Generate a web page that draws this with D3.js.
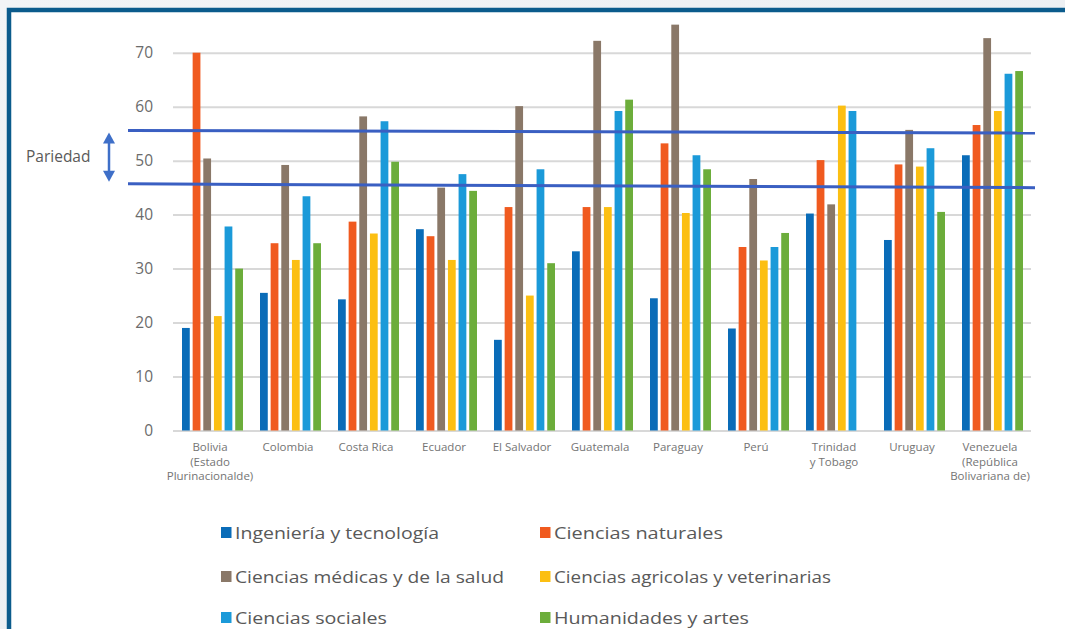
<!DOCTYPE html>
<html><head><meta charset="utf-8">
<script src="https://cdn.jsdelivr.net/npm/d3@7"></script>
<style>
html,body{margin:0;padding:0;background:#eef1f4;}
svg{display:block;}
</style></head>
<body>
<svg id="chart" width="1065" height="629"></svg>
<script>
const countries = [
  ["Bolivia","(Estado","Plurinacionalde)"],
  ["Colombia"],["Costa Rica"],["Ecuador"],["El Salvador"],["Guatemala"],
  ["Paraguay"],["Perú"],["Trinidad","y Tobago"],["Uruguay"],
  ["Venezuela","(República","Bolivariana de)"]
];
const seriesNames = [
  "Ingeniería y tecnología","Ciencias naturales","Ciencias médicas y de la salud",
  "Ciencias agricolas y veterinarias","Ciencias sociales","Humanidades y artes"
];
const seriesColors = ["#0a6cb8","#f05a1f","#8a7868","#fcbf12","#1b9ad9","#6cad3b"];
const ingenieria   = [19.0,25.5,24.3,37.3,16.8,33.2,24.5,18.9,40.2,35.3,51.0];
const naturales    = [70.0,34.7,38.7,36.0,41.4,41.4,53.2,34.0,50.1,49.3,56.6];
const medicas      = [50.4,49.2,58.2,45.0,60.1,72.2,75.2,46.6,41.9,55.7,72.7];
const agricolas    = [21.2,31.6,36.5,31.6,25.0,41.4,40.3,31.5,60.2,48.9,59.2];
const sociales     = [37.8,43.4,57.3,47.5,48.4,59.2,51.0,34.0,59.2,52.3,66.1];
const humanidades  = [30.0,34.7,49.8,44.4,31.0,61.3,48.4,36.6,null,40.5,66.6];
const yTicks = [0,10,20,30,40,50,60,70];
const parityLines = [[55.6,55.1],[45.7,45.0]];
const parityLabel = "Pariedad";

const values = [ingenieria,naturales,medicas,agricolas,sociales,humanidades];
const svg = d3.select("#chart");

// background frame
const defs = svg.append("defs");
const grad = defs.append("linearGradient").attr("id","bg").attr("x1","0").attr("y1","0").attr("x2","1").attr("y2","1");
grad.append("stop").attr("offset","0").attr("stop-color","#f2f4f6");
grad.append("stop").attr("offset","1").attr("stop-color","#e6ebf0");
svg.append("rect").attr("width",1065).attr("height",629).attr("fill","url(#bg)");
svg.append("rect").attr("x",9).attr("y",10).attr("width",1200).attr("height",800)
  .attr("fill","#ffffff").attr("stroke","#0b5b8c").attr("stroke-width",4.5);

const plotL = 173, plotR = 1031, plotT = 52.7, plotB = 430.5;
const y = d3.scaleLinear().domain([0,70]).range([plotB, plotT]);
const x0 = d3.scaleBand().domain(countries.map(c=>c.join(" "))).range([plotL,plotR]).padding(0);
const x1 = d3.scaleBand().domain(seriesNames).range([9,70]).paddingInner(0.27).paddingOuter(0);

// y axis + grid
const yAxis = svg.append("g").attr("transform",`translate(${plotL},0)`)
  .call(d3.axisLeft(y).tickValues(yTicks).tickSizeInner(-(plotR-plotL)).tickSizeOuter(0).tickPadding(20));
yAxis.select(".domain").remove();
yAxis.selectAll(".tick line").attr("stroke","#d8d8d8").attr("stroke-width",2);
yAxis.selectAll(".tick text").attr("fill","#6b6b6b").attr("font-family","Open Sans, sans-serif")
  .attr("font-size",15.5);

// bars
const groups = svg.append("g").selectAll("g").data(countries).join("g")
  .attr("transform",c=>`translate(${x0(c.join(" "))},0)`);
groups.selectAll("rect").data((c,i)=>values.map((s,k)=>({k, v:s[i]})).filter(d=>d.v!=null))
  .join("rect")
  .attr("x",d=>x1(seriesNames[d.k]))
  .attr("width",x1.bandwidth())
  .attr("y",d=>y(d.v))
  .attr("height",d=>y(0)-y(d.v))
  .attr("fill",d=>seriesColors[d.k]);

// x labels
const xl = svg.append("g").selectAll("text").data(countries).join("text")
  .attr("x",c=>x0(c.join(" "))+x0.bandwidth()/2-2)
  .attr("y",451)
  .attr("text-anchor","middle")
  .attr("fill","#747474")
  .attr("font-family","Open Sans, sans-serif")
  .attr("font-size",11.5);
xl.selectAll("tspan").data(c=>c).join("tspan")
  .attr("x",function(){return d3.select(this.parentNode).attr("x");})
  .attr("dy",(d,i)=>i===0?0:14.5)
  .text(d=>d);

// parity lines
const lx0 = 128, lx1 = 1035;
svg.append("g").selectAll("line").data(parityLines).join("line")
  .attr("x1",lx0).attr("x2",lx1)
  .attr("y1",d=>y(d[0])).attr("y2",d=>y(d[1]))
  .attr("stroke","#3a5fc2").attr("stroke-width",3);

// parity arrow + label
const ax = 109;
const aTop = y(parityLines[0][0])+2, aBot = y(parityLines[1][0])-2;
const arrow = svg.append("g").attr("fill","#3e6fc8").attr("stroke","#3e6fc8");
arrow.append("line").attr("x1",ax).attr("x2",ax).attr("y1",aTop+8).attr("y2",aBot-8).attr("stroke-width",2.5);
arrow.append("path").attr("stroke","none").attr("d",`M${ax},${aTop} L${ax-6},${aTop+11} L${ax+6},${aTop+11} Z`);
arrow.append("path").attr("stroke","none").attr("d",`M${ax},${aBot} L${ax-6},${aBot-11} L${ax+6},${aBot-11} Z`);
svg.append("text").attr("x",26).attr("y",(aTop+aBot)/2+5)
  .attr("fill","#5a5a5a").attr("font-family","Open Sans, sans-serif").attr("font-size",15.5)
  .text(parityLabel);

// legend
const legendCols = [221, 540];
const legendRows = [533, 577, 618];
const legendWidths = [204, 169, 269, 277, 152, 195];
const lg = svg.append("g").selectAll("g").data(seriesNames).join("g")
  .attr("transform",(d,i)=>`translate(${legendCols[i%2]},${legendRows[Math.floor(i/2)]})`);
lg.append("rect").attr("x",0).attr("y",-6).attr("width",10.5).attr("height",11)
  .attr("fill",(d,i)=>seriesColors[i]);
lg.append("text").attr("x",14).attr("y",6)
  .attr("fill","#595959").attr("font-family","Open Sans, sans-serif").attr("font-size",17)
  .attr("textLength",(d,i)=>legendWidths[i]).attr("lengthAdjust","spacingAndGlyphs")
  .text(d=>d);
</script>
</body></html>
